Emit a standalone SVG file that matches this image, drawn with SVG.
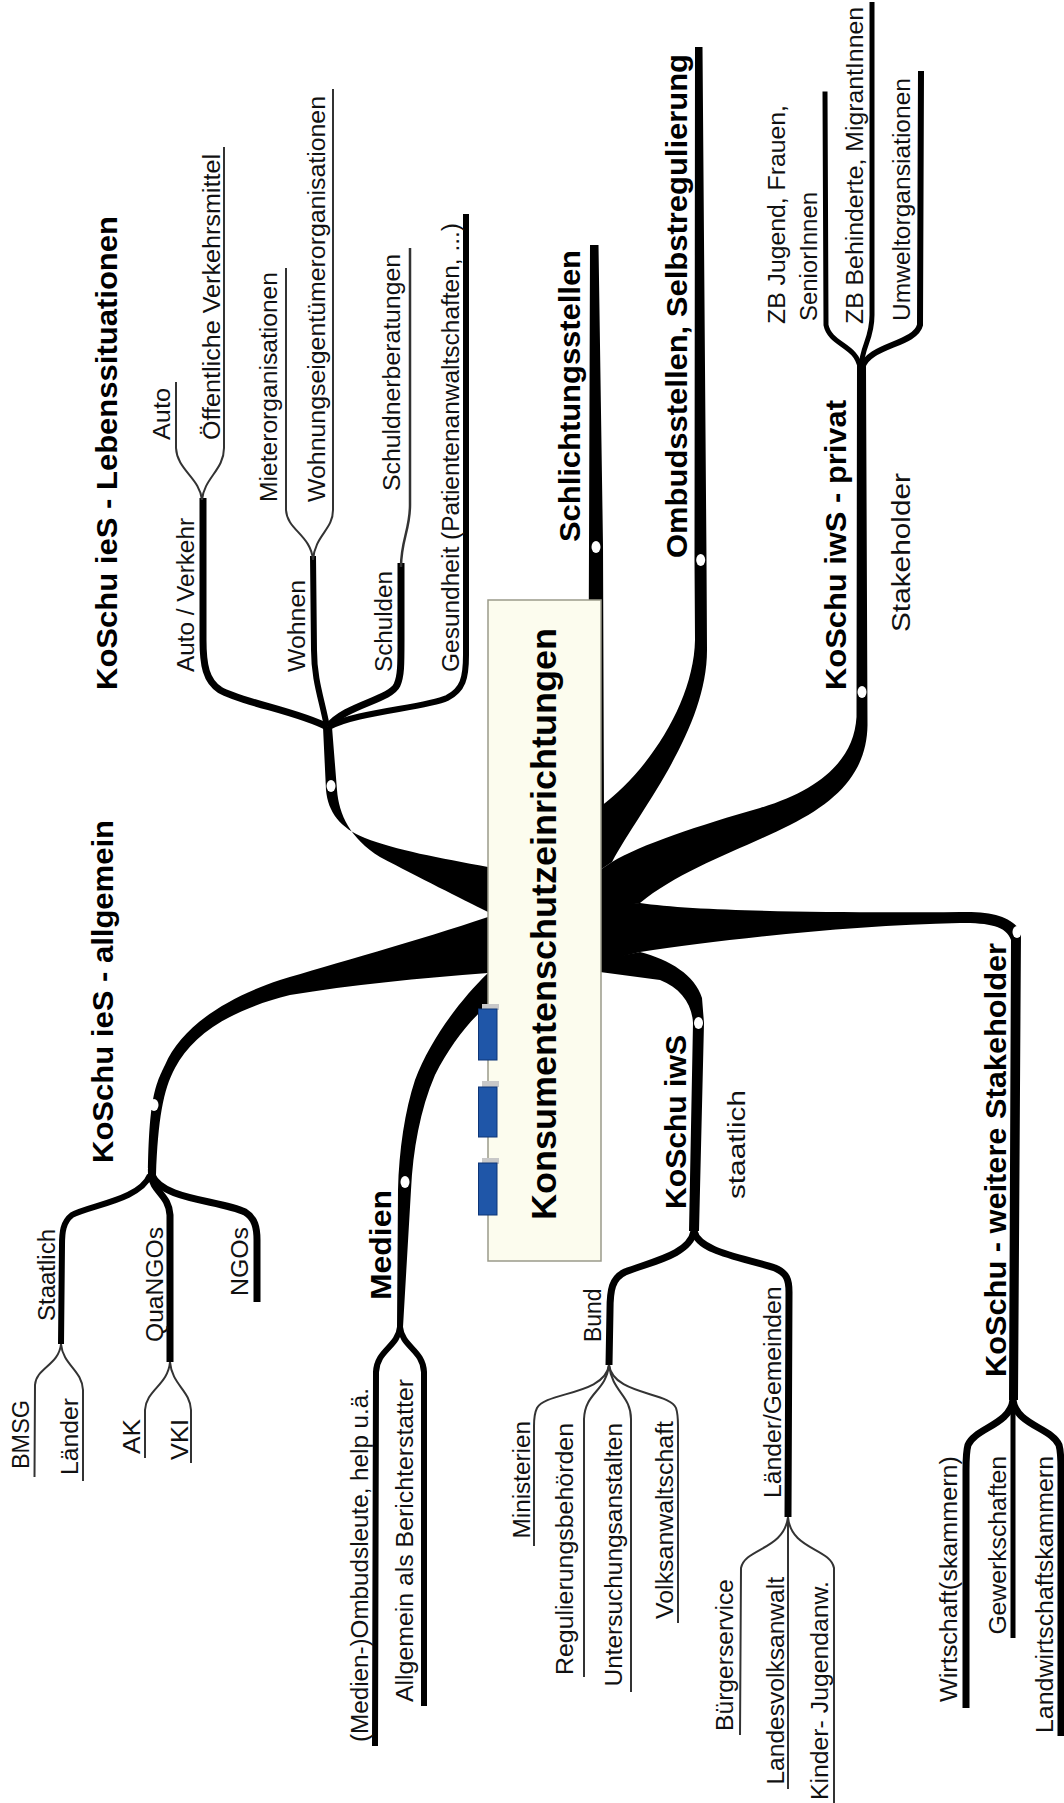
<svg xmlns="http://www.w3.org/2000/svg" width="1064" height="1803" viewBox="0 0 1064 1803">
<style>
.t{font-family:"Liberation Sans",Arial,sans-serif;font-size:23.5px;fill:#111}
.h{font-family:"Liberation Sans",Arial,sans-serif;font-size:30px;font-weight:bold;fill:#000}
.c{font-family:"Liberation Sans",Arial,sans-serif;font-size:35px;font-weight:bold;fill:#000}
.b{fill:#000}
.s7{fill:none;stroke:#000;stroke-width:7}
.s6{fill:none;stroke:#000;stroke-width:6}
.s5{fill:none;stroke:#000;stroke-width:5}
.th{fill:none;stroke:#333;stroke-width:2}
.dot{fill:#fff}
.blue{fill:#1f56a8;stroke:#0d3577;stroke-width:1}
.tab{fill:#c8c8c8}
.box{fill:#fcfcee;stroke:#9a9a8a;stroke-width:1.5}
</style>
<g id="connectors">
<path class="b" d="M488,867 C 440,858 395,850 365,838 C 340,828 328,812 326,790 L 323,727 L 332,727 L 337,790 C 339,815 350,838 380,857 C 420,878 460,898 488,912 Z"/>
<path class="b" d="M488,917 C 420,940 330,965 280,980 C 220,1000 180,1030 165,1065 C 155,1085 149,1100 148,1175 L 156,1175 C 158,1120 163,1090 175,1068 C 192,1035 230,1010 290,995 C 350,985 420,978 488,973 Z"/>
<path class="b" d="M488,973 C 460,1000 430,1040 415,1080 C 405,1110 399,1150 398,1190 L 397,1327 L 403,1327 L 411,1190 C 413,1150 420,1110 435,1075 C 450,1045 470,1020 488,1005 Z"/>
<path class="b" d="M590,245 L 598.5,245 L 603,545 L 604,815 L 588,815 L 589,545 Z"/>
<path class="b" d="M695,47 L 694.5,560 L 695,640 C 694,700 650,770 600,807 L 600,870 L 612,862 C 640,810 707,730 707,650 L 706.5,560 L 702.5,47 Z"/>
<path class="b" d="M857,366 L 856.5,717 C 854,760 820,790 760,808 C 700,825 640,845 612,862 L 600,870 L 600,910 L 640,903 C 680,870 740,850 790,825 C 840,800 867,770 867.5,725 L 866,366 Z"/>
<path class="b" d="M640,903 C 700,912 850,913 960,912 C 995,911 1013,918 1021,932 L 1018,1400 L 1009,1400 L 1011,940 C 1006,926 990,923 960,923 C 850,925 720,940 640,952 L 600,962 L 600,905 Z"/>
<path class="b" d="M640,952 C 670,960 695,975 702,998 L 704,1023 L 699,1231 L 689,1231 L 693,1023 C 692,1003 680,988 660,980 L 600,972 L 600,960 Z"/>
<path class="s7" d="M327,727 C 300,712 240,702 220,690 C 206,681 203,665 203,640 L 203,498"/>
<path class="s6" d="M327,727 C 322,700 314,680 314,650 L 313,556"/>
<path class="s7" d="M328,727 C 345,705 390,700 397,685 C 401,676 401,665 401,640 L 401,563"/>
<path class="s6" d="M329,727 C 355,712 425,708 447,698 C 463,690 466,678 466,655 L 466,214"/>
<path class="th" d="M202,500 C 200,478 177,470 176,448 L 176,382"/>
<path class="th" d="M202,500 C 204,478 224,470 224,448 L 224,147"/>
<path class="th" d="M313,560 C 311,535 287,530 286,510 L 286,268"/>
<path class="th" d="M313,560 C 315,535 333,530 333,510 L 333,89"/>
<path class="th" style="stroke-width:2.5" d="M401,567 C 401,540 410,530 410,505 L 410,248"/>
<path class="s6" d="M150,1175 C 140,1200 90,1205 72,1215 C 63,1222 62,1232 62,1245 L 61,1344"/>
<path class="s7" d="M151,1175 C 153,1192 169,1195 170,1215 L 170,1362"/>
<path class="s7" d="M152,1175 C 162,1200 220,1200 245,1212 C 255,1218 257,1228 257,1240 L 257,1302"/>
<path class="th" d="M61,1344 C 59,1365 36,1368 35,1385 L 34.5,1477"/>
<path class="th" d="M61,1344 C 63,1365 82,1370 83,1390 L 83,1481"/>
<path class="th" d="M170,1362 C 168,1385 146,1390 145,1410 L 145,1458"/>
<path class="th" d="M170,1362 C 172,1385 190,1390 191,1410 L 191,1463"/>
<path class="s6" d="M400,1327 C 398,1347 377,1350 376,1372 L 375,1746"/>
<path class="s6" d="M400,1327 C 402,1347 423,1350 424,1372 L 424,1706"/>
<path class="s7" d="M694,1231 C 690,1255 650,1262 625,1272 C 612,1278 610,1290 610,1310 L 609,1365"/>
<path class="s7" d="M694,1231 C 698,1252 745,1258 775,1268 C 787,1273 789,1280 789,1292 L 788,1517"/>
<path class="th" d="M609,1365 C 605,1395 545,1392 537,1408 C 534,1414 534,1420 534,1426 L 534,1546"/>
<path class="th" d="M609,1365 C 606,1392 585,1392 584,1419 L 584,1677"/>
<path class="th" d="M609,1365 C 612,1392 631,1395 631,1419 L 631,1692"/>
<path class="th" d="M609,1365 C 613,1395 670,1392 676,1408 C 678,1414 678,1420 678,1426 L 678,1623"/>
<path class="th" d="M788,1517 C 784,1550 745,1548 741,1568 L 740,1735"/>
<path class="th" d="M788,1517 L 788,1789"/>
<path class="th" d="M788,1517 C 791,1550 830,1548 834,1568 L 834,1803"/>
<path class="s7" d="M1013,1400 C 1010,1425 975,1428 968,1445 C 966,1452 966,1460 966,1470 L 966,1708"/>
<path class="s5" d="M1013,1398 L 1013,1638"/>
<path class="s7" d="M1013,1400 C 1016,1425 1052,1428 1059,1445 C 1061,1452 1061,1460 1061,1470 L 1061,1736"/>
<path class="s5" d="M860,368 C 857,345 830,345 826,325 L 825,91.5"/>
<path class="s5" d="M861,368 C 862,345 872,340 872,315 L 872,2"/>
<path class="s6" d="M862,368 C 868,345 915,345 920,325 L 921,71"/>
<ellipse class="dot" cx="596" cy="547" rx="4.5" ry="6"/>
<ellipse class="dot" cx="700.7" cy="560" rx="4.5" ry="6"/>
<ellipse class="dot" cx="862" cy="692" rx="4.5" ry="6"/>
<ellipse class="dot" cx="1017" cy="932" rx="4.5" ry="6"/>
<ellipse class="dot" cx="698.5" cy="1023" rx="4.5" ry="6"/>
<ellipse class="dot" cx="331" cy="786" rx="4.5" ry="6"/>
<ellipse class="dot" cx="154" cy="1105" rx="4.5" ry="6"/>
<ellipse class="dot" cx="405" cy="1182" rx="4.5" ry="6"/>
</g>
<g id="center">
<rect class="box" x="488" y="600" width="113" height="661"/>
<rect class="tab" x="482" y="1004" width="17" height="6"/>
<rect class="blue" x="478.5" y="1009" width="18.5" height="51"/>
<rect class="tab" x="482" y="1081" width="17" height="6"/>
<rect class="blue" x="478.5" y="1087" width="18.5" height="50"/>
<rect class="tab" x="482" y="1158" width="17" height="6"/>
<rect class="blue" x="478.5" y="1163" width="18.5" height="52"/>
<text class="c" transform="translate(556,1220) rotate(-90)" textLength="592" lengthAdjust="spacingAndGlyphs">Konsumentenschutzeinrichtungen</text>
</g>
<g id="lebens">
<text class="h" transform="translate(117,690) rotate(-90)" textLength="474" lengthAdjust="spacingAndGlyphs">KoSchu ieS - Lebenssituationen</text>
<text class="t" transform="translate(170,440) rotate(-90)" textLength="52" lengthAdjust="spacingAndGlyphs">Auto</text>
<text class="t" transform="translate(220,440) rotate(-90)" textLength="286" lengthAdjust="spacingAndGlyphs">Öffentliche Verkehrsmittel</text>
<text class="t" transform="translate(194,672) rotate(-90)" textLength="154" lengthAdjust="spacingAndGlyphs">Auto / Verkehr</text>
<text class="t" transform="translate(277,502) rotate(-90)" textLength="230" lengthAdjust="spacingAndGlyphs">Mieterorganisationen</text>
<text class="t" transform="translate(325,502) rotate(-90)" textLength="406" lengthAdjust="spacingAndGlyphs">Wohnungseigentümerorganisationen</text>
<text class="t" transform="translate(305,672) rotate(-90)" textLength="92" lengthAdjust="spacingAndGlyphs">Wohnen</text>
<text class="t" transform="translate(400,491) rotate(-90)" textLength="237" lengthAdjust="spacingAndGlyphs">Schuldnerberatungen</text>
<text class="t" transform="translate(392,672) rotate(-90)" textLength="101" lengthAdjust="spacingAndGlyphs">Schulden</text>
<text class="t" transform="translate(459,672) rotate(-90)" textLength="449" lengthAdjust="spacingAndGlyphs">Gesundheit (Patientenanwaltschaften, ...)</text>
</g>
<g id="allgemein">
<text class="h" transform="translate(113,1163) rotate(-90)" textLength="343" lengthAdjust="spacingAndGlyphs">KoSchu ieS - allgemein</text>
<text class="t" transform="translate(55,1321) rotate(-90)" textLength="92" lengthAdjust="spacingAndGlyphs">Staatlich</text>
<text class="t" transform="translate(29,1469) rotate(-90)" textLength="69" lengthAdjust="spacingAndGlyphs">BMSG</text>
<text class="t" transform="translate(77.5,1475) rotate(-90)" textLength="77" lengthAdjust="spacingAndGlyphs">Länder</text>
<text class="t" transform="translate(163,1342) rotate(-90)" textLength="115" lengthAdjust="spacingAndGlyphs">QuaNGOs</text>
<text class="t" transform="translate(139.5,1454) rotate(-90)" textLength="35" lengthAdjust="spacingAndGlyphs">AK</text>
<text class="t" transform="translate(187.5,1460) rotate(-90)" textLength="41" lengthAdjust="spacingAndGlyphs">VKI</text>
<text class="t" transform="translate(248,1296) rotate(-90)" textLength="69" lengthAdjust="spacingAndGlyphs">NGOs</text>
</g>
<g id="medien">
<text class="h" transform="translate(391,1300) rotate(-90)" textLength="110" lengthAdjust="spacingAndGlyphs">Medien</text>
<text class="t" transform="translate(368,1742) rotate(-90)" textLength="354" lengthAdjust="spacingAndGlyphs">(Medien-)Ombudsleute, help u.ä.</text>
<text class="t" transform="translate(413,1702) rotate(-90)" textLength="323" lengthAdjust="spacingAndGlyphs">Allgemein als Berichterstatter</text>
</g>
<g id="staatlich">
<text class="h" transform="translate(686,1209) rotate(-90)" textLength="174" lengthAdjust="spacingAndGlyphs">KoSchu iwS</text>
<text class="t" transform="translate(745,1199) rotate(-90)" textLength="109" lengthAdjust="spacingAndGlyphs">staatlich</text>
<text class="t" transform="translate(601,1342) rotate(-90)" textLength="53.5" lengthAdjust="spacingAndGlyphs">Bund</text>
<text class="t" transform="translate(781,1498) rotate(-90)" textLength="211.5" lengthAdjust="spacingAndGlyphs">Länder/Gemeinden</text>
<text class="t" transform="translate(530,1538.5) rotate(-90)" textLength="117.5" lengthAdjust="spacingAndGlyphs">Ministerien</text>
<text class="t" transform="translate(573,1675) rotate(-90)" textLength="252" lengthAdjust="spacingAndGlyphs">Regulierungsbehörden</text>
<text class="t" transform="translate(622,1686.5) rotate(-90)" textLength="263.5" lengthAdjust="spacingAndGlyphs">Untersuchungsanstalten</text>
<text class="t" transform="translate(672.5,1619) rotate(-90)" textLength="198" lengthAdjust="spacingAndGlyphs">Volksanwaltschaft</text>
<text class="t" transform="translate(733,1731) rotate(-90)" textLength="152" lengthAdjust="spacingAndGlyphs">Bürgerservice</text>
<text class="t" transform="translate(783.5,1784.6) rotate(-90)" textLength="207.6" lengthAdjust="spacingAndGlyphs">Landesvolksanwalt</text>
<text class="t" transform="translate(828,1800) rotate(-90)" textLength="219" lengthAdjust="spacingAndGlyphs">Kinder- Jugendanw.</text>
</g>
<g id="weitere">
<text class="h" transform="translate(1006,1377) rotate(-90)" textLength="434" lengthAdjust="spacingAndGlyphs">KoSchu - weitere Stakeholder</text>
<text class="t" transform="translate(957,1702) rotate(-90)" textLength="246" lengthAdjust="spacingAndGlyphs">Wirtschaft(skammern)</text>
<text class="t" transform="translate(1005.5,1634.6) rotate(-90)" textLength="178.6" lengthAdjust="spacingAndGlyphs">Gewerkschaften</text>
<text class="t" transform="translate(1052.5,1733) rotate(-90)" textLength="277" lengthAdjust="spacingAndGlyphs">Landwirtschaftskammern</text>
</g>
<g id="privat">
<text class="h" transform="translate(846,690) rotate(-90)" textLength="290" lengthAdjust="spacingAndGlyphs">KoSchu iwS - privat</text>
<text class="t" style="font-size:25px" transform="translate(910,632) rotate(-90)" textLength="159" lengthAdjust="spacingAndGlyphs">Stakeholder</text>
<text class="t" transform="translate(785,324) rotate(-90)" textLength="219" lengthAdjust="spacingAndGlyphs">ZB Jugend, Frauen,</text>
<text class="t" transform="translate(816.5,321) rotate(-90)" textLength="129" lengthAdjust="spacingAndGlyphs">SeniorInnen</text>
<text class="t" transform="translate(863,324) rotate(-90)" textLength="317" lengthAdjust="spacingAndGlyphs">ZB Behinderte, MigrantInnen</text>
<text class="t" transform="translate(910,321) rotate(-90)" textLength="243" lengthAdjust="spacingAndGlyphs">Umweltorgansiationen</text>
</g>
<g id="ombuds">
<text class="h" transform="translate(687,558) rotate(-90)" textLength="504" lengthAdjust="spacingAndGlyphs">Ombudsstellen, Selbstregulierung</text>
</g>
<g id="schlichtung">
<text class="h" transform="translate(580,542) rotate(-90)" textLength="292" lengthAdjust="spacingAndGlyphs">Schlichtungsstellen</text>
</g>
</svg>
